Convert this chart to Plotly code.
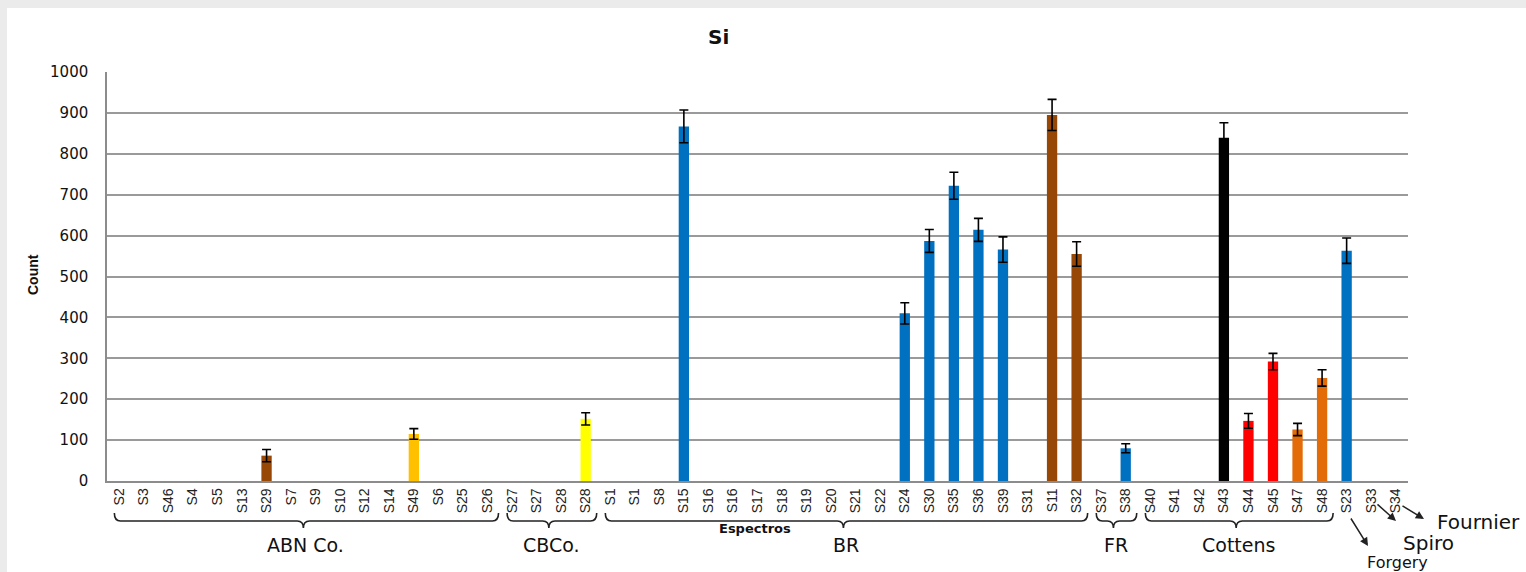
import plotly.graph_objects as go

# ---------------- data ----------------
labels = ["S2", "S3", "S46", "S4", "S5", "S13", "S29", "S7", "S9", "S10", "S12", "S14", "S49", "S6", "S25", "S26",
          "S27", "S27", "S28", "S28",
          "S1", "S1", "S8", "S15", "S16", "S16", "S17", "S18", "S19", "S20", "S21", "S22", "S24", "S30", "S35", "S36", "S39", "S31", "S11", "S32",
          "S37", "S38",
          "S40", "S41", "S42", "S43", "S44", "S45", "S47", "S48",
          "S23", "S33", "S34"]

values = [0, 0, 0, 0, 0, 0, 62, 0, 0, 0, 0, 0, 115, 0, 0, 0,
          0, 0, 0, 152,
          0, 0, 0, 867, 0, 0, 0, 0, 0, 0, 0, 0, 410, 587, 722, 614, 566, 0, 895, 555,
          0, 80,
          0, 0, 0, 839, 147, 292, 126, 252,
          563, 0, 0]

errors = [None, None, None, None, None, None, 15, None, None, None, None, None, 13, None, None, None,
          None, None, None, 15,
          None, None, None, 40, None, None, None, None, None, None, None, None, 26, 28, 33, 28, 31, None, 38, 30,
          None, 11,
          None, None, None, 37, 18, 20, 15, 20,
          31, None, None]

BLUE, BROWN, GOLD, YELLOW, RED, ORANGE, BLACK = "#0070C0", "#974706", "#FFC000", "#FFFF00", "#FF0000", "#E36C09", "#000000"
colors = [BLUE] * 6 + [BROWN] + [BLUE] * 5 + [GOLD] + [BLUE] * 3 + \
         [BLUE] * 3 + [YELLOW] + \
         [BLUE] * 18 + [BROWN, BROWN] + \
         [BLUE, BLUE] + \
         [BLUE] * 3 + [BLACK, RED, RED, ORANGE, ORANGE] + \
         [BLUE] * 3

groups = [("ABN Co.", 16), ("CBCo.", 4), ("BR", 20), ("FR", 2), ("Cottens", 8)]
singles = ["Forgery", "Spiro", "Fournier"]

# ---------------- geometry helpers ----------------
W, H = 1526, 572
ML, MR, MT, MB = 107, 118, 72, 91
PW, PH = W - ML - MR, H - MT - MB
N = len(labels)


def py(p):  # pixel y -> paper y
    return (H - MB - p) / PH


def px(p):  # pixel x -> paper x
    return (p - ML) / PW


x = list(range(N))
nz = [i for i in x if values[i] and errors[i] is not None]

fig = go.Figure()
fig.add_trace(go.Bar(
    x=[i for i in x if values[i]], y=[values[i] for i in x if values[i]],
    marker=dict(color=[colors[i] for i in x if values[i]], line=dict(width=0)), width=0.42,
    showlegend=False, hoverinfo="x+y"))
fig.add_trace(go.Scatter(
    x=nz, y=[values[i] for i in nz], mode="markers", marker=dict(size=1, opacity=0),
    error_y=dict(type="data", array=[errors[i] for i in nz], visible=True, color="black", thickness=1.6, width=4.5),
    showlegend=False, hoverinfo="skip"))

shapes = [
    dict(type="rect", xref="paper", yref="paper", x0=px(-5), x1=px(W + 5), y0=py(-5), y1=py(8),
         fillcolor="#ebebeb", line=dict(width=0), layer="below"),
    dict(type="rect", xref="paper", yref="paper", x0=px(-5), x1=px(7), y0=py(-5), y1=py(H + 5),
         fillcolor="#ebebeb", line=dict(width=0), layer="below"),
]

annotations = []


def text_ann(xv, yv, txt, size, family="DejaVu Sans", xref="paper", angle=0):
    return dict(x=xv, y=yv, xref=xref, yref="paper", text=txt, showarrow=False, textangle=angle,
                xanchor="center", yanchor="middle", font=dict(family=family, size=size, color="#111"))


# brackets
ytop, ymid, ybot = py(513), py(521), py(528)
start = 0
d = 0.25
for name, cnt in groups:
    xs = start - 0.2
    xe = start + cnt - 1 + 0.45
    xc = (start - 0.5 + start + cnt - 0.5) / 2
    path = (f"M {xs},{ytop} Q {xs},{ymid} {xs + d},{ymid} L {xc - d},{ymid} "
            f"Q {xc},{ymid} {xc},{ybot} Q {xc},{ymid} {xc + d},{ymid} "
            f"L {xe - d},{ymid} Q {xe},{ymid} {xe},{ytop}")
    shapes.append(dict(type="path", xref="x", yref="paper", path=path,
                       line=dict(color="#222", width=1.6)))
    annotations.append(text_ann(xc + 0.1, py(545), name, 19, xref="x"))
    if name == "BR":
        annotations.append(text_ann(xc - 3.6, py(528), "<b>Espectros</b>", 13, xref="x"))
    start += cnt

# single-sample arrows and labels
arrow_specs = {
    "Forgery": dict(tail=(1350, 517), head=(1368, 546), text=(1397, 562), size=16),
    "Spiro": dict(tail=(1376, 503), head=(1396, 521), text=(1428, 543), size=20),
    "Fournier": dict(tail=(1401, 505), head=(1424, 519), text=(1478, 522), size=20),
}
for name in singles:
    s = arrow_specs[name]
    annotations.append(dict(x=px(s["head"][0]), y=py(s["head"][1]), xref="paper", yref="paper",
                            ax=s["tail"][0] - s["head"][0], ay=s["tail"][1] - s["head"][1],
                            axref="pixel", ayref="pixel", text="", showarrow=True,
                            arrowhead=2, arrowsize=1.1, arrowwidth=1.5, arrowcolor="#222"))
    annotations.append(text_ann(px(s["text"][0]), py(s["text"][1]), name, s["size"]))

# title and y title
annotations.append(text_ann(px(718), py(37), "<b>Si</b>", 20))
annotations.append(text_ann(px(33), py(275), "<b>Count</b>", 14,
                            family="Liberation Sans Narrow, Liberation Sans", angle=-90))

fig.update_layout(
    width=W, height=H,
    margin=dict(l=ML, r=MR, t=MT, b=MB, autoexpand=False),
    paper_bgcolor="white", plot_bgcolor="white",
    shapes=shapes, annotations=annotations,
)
fig.update_xaxes(range=[-0.5, N - 0.5], tickvals=x, ticktext=labels, tickangle=-90,
                 tickfont=dict(family="Liberation Sans Narrow, Liberation Sans", size=14, color="#222"),
                 showgrid=False, showline=True, linecolor="#8c8c8c", linewidth=1.5, ticks="", zeroline=False)
fig.update_yaxes(range=[0, 1000], dtick=100, showgrid=True, gridcolor="#9a9a9a", gridwidth=1.5,
                 showline=True, linecolor="#8c8c8c", linewidth=1.5, ticks="", zeroline=False,
                 tickfont=dict(family="DejaVu Sans", size=15, color="#111"), ticklabelstandoff=14)

fig.write_html("out.html", config={"displayModeBar": False},
               post_script="document.body.style.margin='0';")
